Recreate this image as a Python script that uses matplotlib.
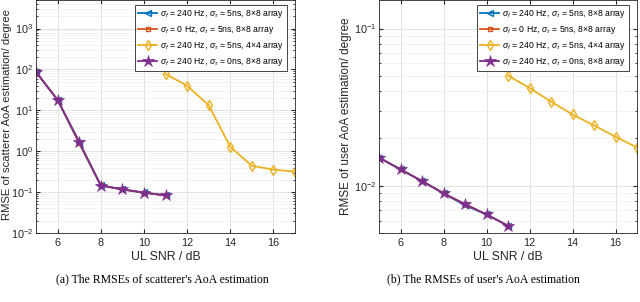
import numpy as np
import matplotlib.pyplot as plt

plt.rcParams['font.family'] = ['Liberation Sans', 'DejaVu Sans']
plt.rcParams['mathtext.fontset'] = 'custom'
plt.rcParams['mathtext.it'] = 'Liberation Sans:italic'
plt.rcParams['mathtext.rm'] = 'Liberation Sans'

snr_a = [5, 6, 7, 8, 9, 10, 11]
snr_b = [11, 12, 13, 14, 15, 16, 17]

# (a) scatterer AoA RMSE
scat_240_5_8 = [87, 18, 1.57, 0.148, 0.116, 0.098, 0.083]
scat_0_5_8 = [87, 18, 1.62, 0.146, 0.116, 0.097, 0.083]
scat_240_5_4 = [78, 40, 13.4, 1.28, 0.44, 0.356, 0.316]
scat_240_0_8 = [87, 18, 1.72, 0.144, 0.117, 0.097, 0.083]

# (b) user AoA RMSE
user_240_5_8 = [0.0151, 0.0127, 0.0107, 0.00894, 0.0075, 0.00656, 0.00556]
user_0_5_8 = [0.0151, 0.0127, 0.0107, 0.00896, 0.00762, 0.00656, 0.00556]
user_240_5_4 = [0.0502, 0.0419, 0.0343, 0.0284, 0.0242, 0.0205, 0.0175]
user_240_0_8 = [0.0151, 0.0127, 0.0107, 0.00894, 0.00764, 0.00656, 0.00556]

labels = [r'$\sigma_f$ = 240 Hz, $\sigma_\tau$ = 5ns, 8$\times$8 array',
          r'$\sigma_f$ = 0 Hz, $\sigma_\tau$ = 5ns, 8$\times$8 array',
          r'$\sigma_f$ = 240 Hz, $\sigma_\tau$ = 5ns, 4$\times$4 array',
          r'$\sigma_f$ = 240 Hz, $\sigma_\tau$ = 0ns, 8$\times$8 array']

c_blue = '#0072BD'
c_orange = '#D95319'
c_yellow = '#EDB120'
c_purple = '#7E2F8E'

fig = plt.figure(figsize=(6.4, 3.02), dpi=100)
ax1 = fig.add_axes([36/640, 69/302, 259/640, 233/302])
ax2 = fig.add_axes([379/640, 69/302, 258/640, 233/302])


def draw(ax, s1, s2, s3, s4):
    ax.plot(snr_a, s1, color=c_blue, marker='<', ms=5, lw=1.3, mfc='none', mew=1.0, label=labels[0])
    ax.plot(snr_a, s2, color=c_orange, marker='s', ms=3.5, lw=1.3, mfc='none', mew=1.0, label=labels[1])
    ax.plot(snr_b, s3, color=c_yellow, marker='d', ms=5, lw=1.3, mfc='none', mew=1.0, label=labels[2])
    ax.plot(snr_a, s4, color=c_purple, marker='*', ms=9, lw=1.3, mfc=c_purple, mew=0.5, label=labels[3])
    ax.set_yscale('log')
    ax.set_xlim(5, 17)
    ax.set_xticks([6, 8, 10, 12, 14, 16])
    ax.grid(True, which='major', color='#dddddd', lw=0.6)
    ax.grid(True, which='minor', color='#eeeeee', lw=0.5)
    ax.tick_params(which='both', direction='in', labelsize=7.8, colors='#262626', top=True, right=True)
    ax.tick_params(axis='y', pad=2)
    ax.tick_params(which='major', length=3)
    ax.tick_params(which='minor', length=1.5)
    for sp in ax.spines.values():
        sp.set_color('#262626')
        sp.set_linewidth(0.6)
    ax.set_xlabel('UL SNR / dB', fontsize=8.8, color='#262626', labelpad=2)
    leg = ax.legend(loc='upper right', fontsize=6.2, handlelength=2.2, handletextpad=0.3,
                    borderpad=0.35, labelspacing=0.45, fancybox=False, framealpha=1,
                    edgecolor='#262626', bbox_to_anchor=(0.985, 0.995))
    leg.get_frame().set_linewidth(0.6)


draw(ax1, scat_240_5_8, scat_0_5_8, scat_240_5_4, scat_240_0_8)
ax1.set_ylim(1e-2, 5e3)
ax1.set_ylabel('RMSE of scatterer AoA estimation/ degree', fontsize=8.1, color='#262626')
ax1.yaxis.set_label_coords(-0.093, 0.51)

draw(ax2, user_240_5_8, user_0_5_8, user_240_5_4, user_240_0_8)
ax2.set_ylim(5e-3, 0.152)
ax2.set_ylabel('RMSE of user AoA estimation/ degree', fontsize=8.5, color='#262626')
ax2.yaxis.set_label_coords(-0.105, 0.5)

fig.text(162/640, 1 - 279/302, "(a) The RMSEs of scatterer's AoA estimation", ha='center', va='center',
         fontsize=8.5, family='Liberation Serif')
fig.text(483/640, 1 - 279/302, "(b) The RMSEs of user's AoA estimation", ha='center', va='center',
         fontsize=8.5, family='Liberation Serif')

fig.savefig('out.png', dpi=100)
